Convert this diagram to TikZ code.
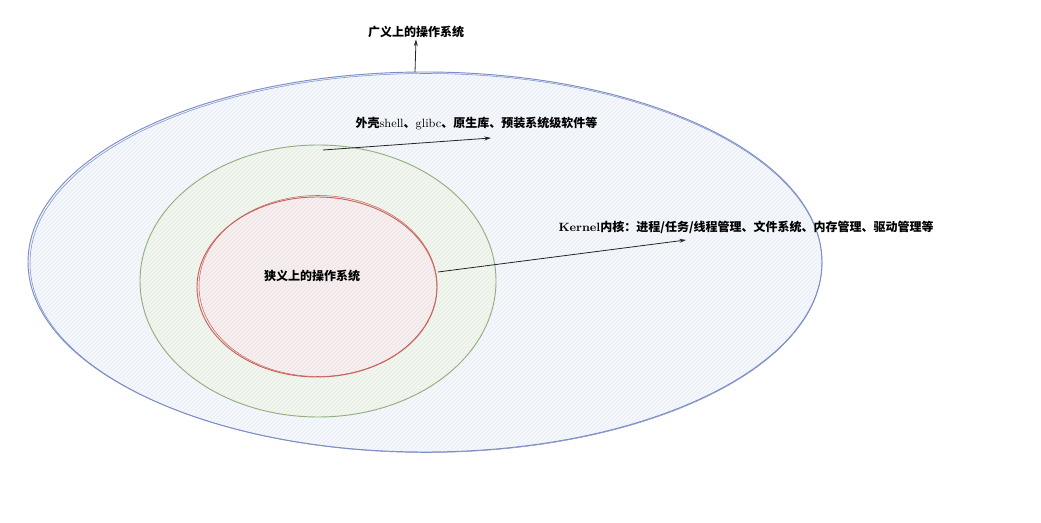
\documentclass[tikz,border=0pt]{standalone}
\usepackage{fontspec}
\newfontfamily\cjk{Noto Sans CJK SC}
\usetikzlibrary{arrows.meta,patterns}
\definecolor{outerfill}{HTML}{F5F8FC}
\definecolor{outerline}{HTML}{7D8EC6}
\definecolor{midfill}{HTML}{F2F6EF}
\definecolor{midline}{HTML}{92B07E}
\definecolor{innerfill}{HTML}{F7F0F0}
\definecolor{innerline}{HTML}{C8625C}
\definecolor{hatchblue}{HTML}{E6EBF3}
\definecolor{hatchgreen}{HTML}{E3EADE}
\definecolor{hatchred}{HTML}{EEDFDF}
\tikzset{
  lbl/.style={font=\cjk\bfseries\fontsize{9}{11}\selectfont, text=black, inner sep=1pt},
  conn/.style={draw=black!85, line width=0.6pt, -{Stealth[length=5pt,width=3pt]}},
  region/.style={line width=0.7pt}
}
\begin{document}
\begin{tikzpicture}[x=0.75pt,y=-0.75pt]
\useasboundingbox (0,0) rectangle (1041,523);
% outer ellipse
\path[region, fill=outerfill] (425,262) ellipse [x radius=397, y radius=190];
\path[pattern=north east lines, pattern color=hatchblue] (425,262) ellipse [x radius=397, y radius=190];
\draw[region, draw=outerline] (425,262) ellipse [x radius=397, y radius=190];
\draw[draw=outerline, line width=0.4pt] (426,263) ellipse [x radius=396, y radius=189.5];
% middle
\path[fill=midfill] (318,281) ellipse [x radius=178, y radius=136];
\path[pattern=north east lines, pattern color=hatchgreen] (318,281) ellipse [x radius=178, y radius=136];
\draw[region, draw=midline] (318,281) ellipse [x radius=178, y radius=136];
% inner
\path[fill=innerfill] (317,287) ellipse [x radius=120, y radius=90];
\path[pattern=north east lines, pattern color=hatchred] (317,287) ellipse [x radius=120, y radius=90];
\draw[region, draw=innerline] (317,287) ellipse [x radius=120, y radius=90];
\draw[draw=innerline, line width=0.4pt] (318,286) ellipse [x radius=119, y radius=90.5];
% anchor coordinates
\coordinate (outertop) at (415,72);
\coordinate (midpt) at (323,150);
\coordinate (innerpt) at (438,272);
% labels
\node[lbl] (broad) at (416,32) {广义上的操作系统};
\node[lbl, anchor=west] (shell) at (354,124) {外壳{\rmfamily\mdseries shell}、{\rmfamily\mdseries glibc}、原生库、预装系统级软件等};
\node[lbl, anchor=west] (kernel) at (557,227) {{\rmfamily Kernel}内核：进程/任务/线程管理、文件系统、内存管理、驱动管理等};
\node[lbl] (narrow) at (312,276) {狭义上的操作系统};
\coordinate (shellend) at (491,138);
\coordinate (kernelend) at (686,240);
% connectors
\draw[conn] (outertop) -- (broad.south);
\draw[conn] (midpt) -- (shellend);
\draw[conn] (innerpt) -- (kernelend);
\end{tikzpicture}
\end{document}
